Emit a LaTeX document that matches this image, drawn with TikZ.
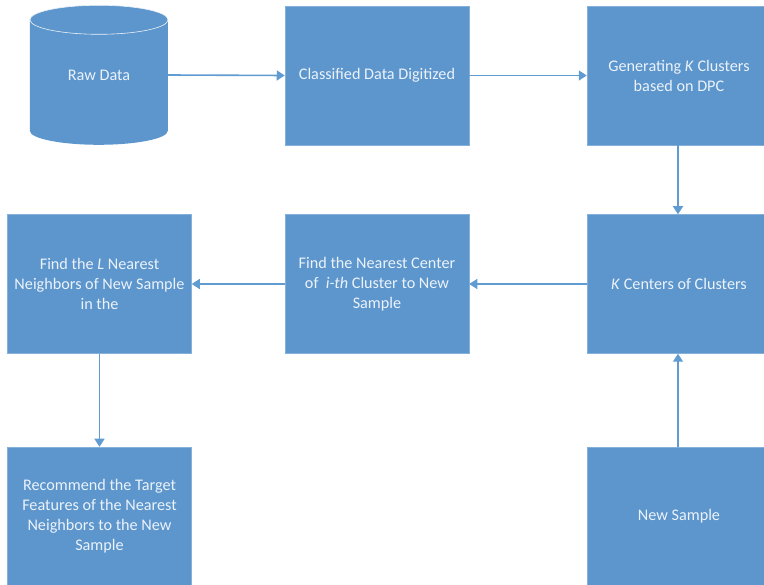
\documentclass[tikz,border=0pt]{standalone}
\usepackage{fontspec}
\setmainfont{Carlito}
\usetikzlibrary{arrows.meta}
\definecolor{boxblue}{RGB}{92,150,204}
\definecolor{linkblue}{RGB}{96,155,210}
\definecolor{textwhite}{RGB}{236,242,250}
\begin{document}
\begin{tikzpicture}[x=1pt,y=1pt,
        stepbox/.style={rectangle,fill=boxblue,draw=boxblue!75!white,line width=0.5pt,
            minimum width=184pt,minimum height=139pt,inner sep=0pt,
            text=textwhite,align=center,font=\fontsize{16.2}{20}\selectfont},
        link/.style={draw=linkblue,line width=1.6pt,-{Triangle[length=8pt,width=10pt]}}]
        \useasboundingbox (0,0) rectangle (764,-585);

        \node (raw) at (99,-75) [minimum width=138pt,minimum height=140pt,inner sep=0pt] {};
        \fill[boxblue] (raw.north west) ++(0,-15)
        -- ++(0,-111) arc[start angle=180,end angle=360,x radius=69,y radius=14]
        -- ++(0,111) arc[start angle=0,end angle=180,x radius=69,y radius=14.5]
        -- cycle;
        \draw[textwhite,line width=0.6pt] (raw.north) ++(0,-15) ellipse[x radius=69,y radius=14.5];
        \node at (raw) [text=textwhite,font=\fontsize{16.2}{20}\selectfont] {Raw Data};

        \node (dig) at (377,-75.5) [stepbox] {Classified Data Digitized};
        \node (gen) at (679,-75.5) [stepbox] {Generating \textit{K} Clusters\\based on DPC};
        \node (kc) at (679,-284) [stepbox] {\textit{K} Centers of Clusters};
        \node (near) at (377,-284) [stepbox] {Find the Nearest Center\\of \ \textit{i-th} Cluster to New\\Sample};
        \node (lnn) at (99.5,-284) [stepbox] {Find the \textit{L} Nearest\\Neighbors of New Sample\\in the};
        \node (rec) at (99.5,-516.5) [stepbox] {Recommend the Target\\Features of the Nearest\\Neighbors to the New\\Sample};
        \node (ns) at (679,-516.5) [stepbox] {New Sample};

        \draw[link] (raw.east) -- (dig.west);
        \draw[link] (dig.east) -- (gen.west);
        \draw[link] ([xshift=-1pt]gen.south) -- ([xshift=-1pt]kc.north);
        \draw[link] (kc.west) -- (near.east);
        \draw[link] (near.west) -- (lnn.east);
        \draw[link] (lnn.south) -- (rec.north);
        \draw[link] ([xshift=-1pt]ns.north) -- ([xshift=-1pt]kc.south);
\end{tikzpicture}
\end{document}
